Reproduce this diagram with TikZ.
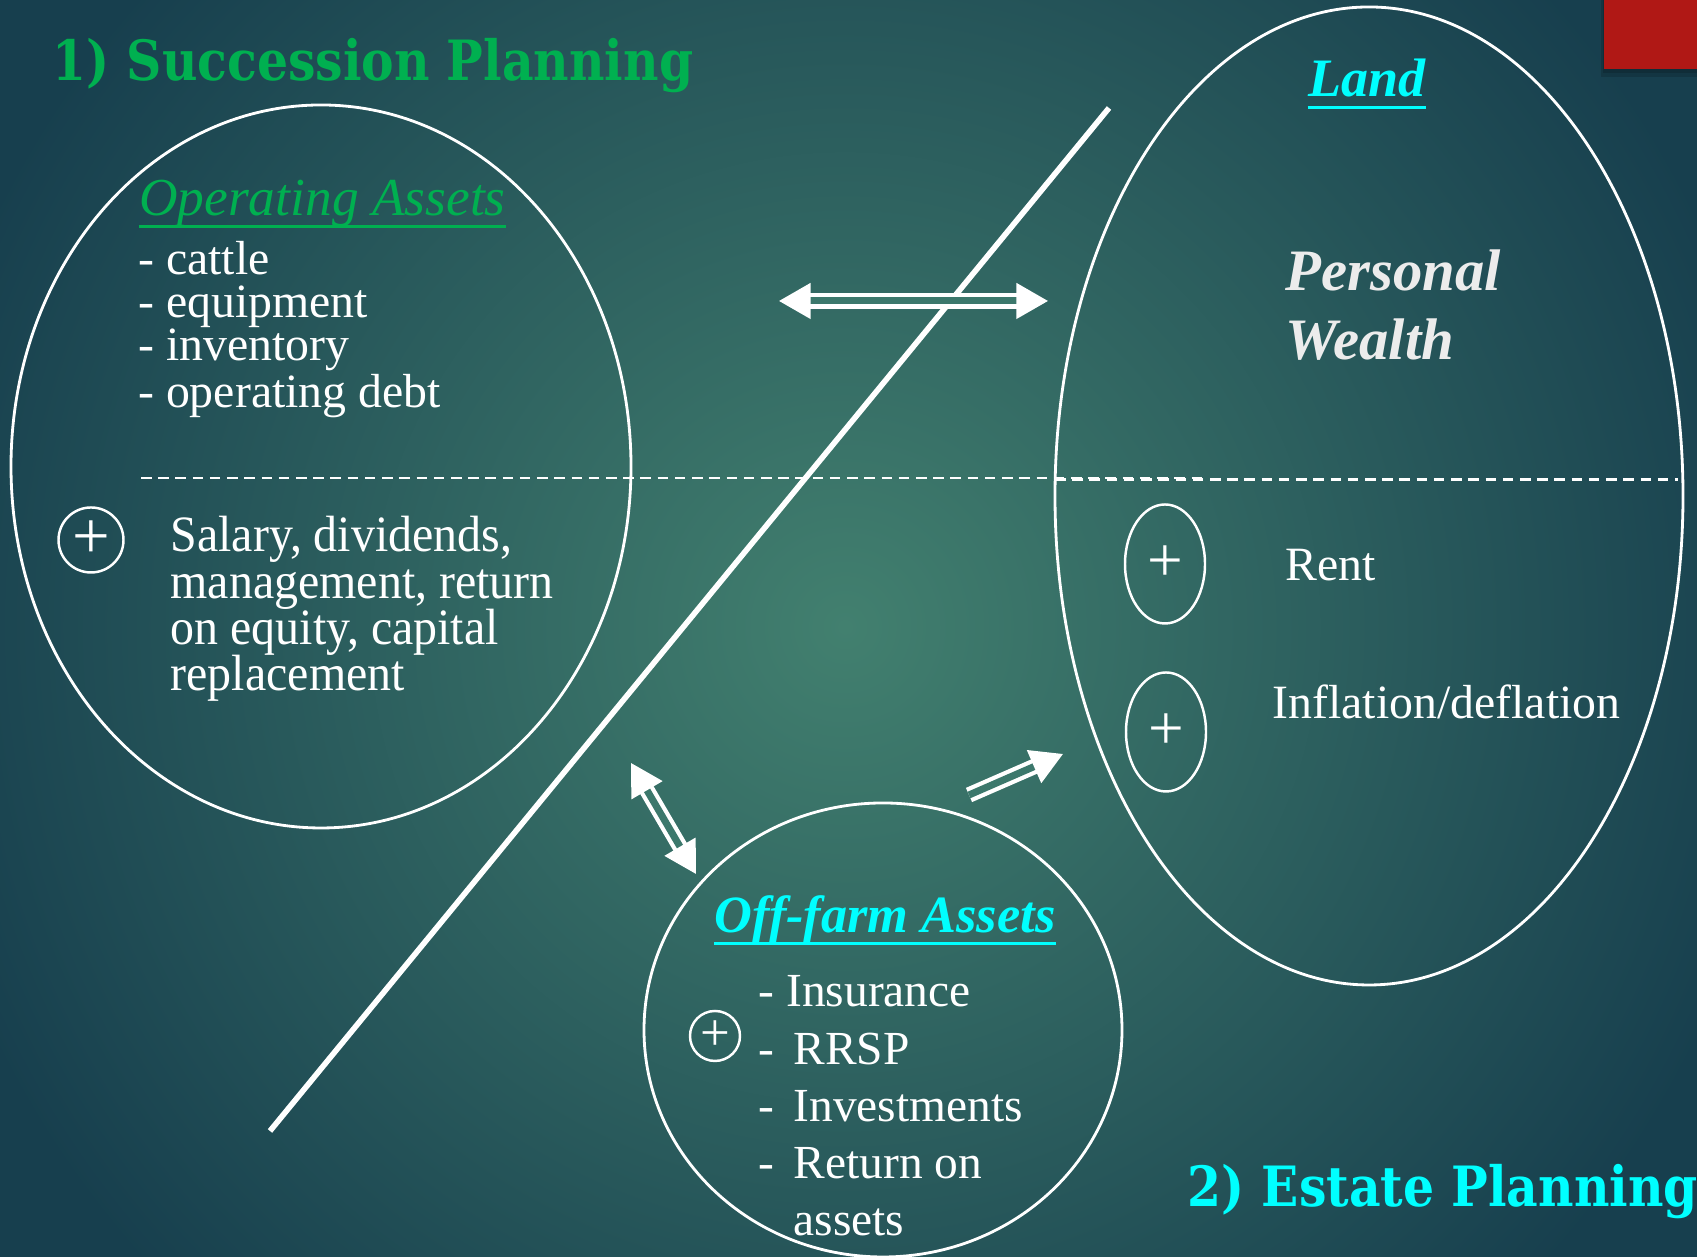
\documentclass[tikz,border=0pt]{standalone}
\usepackage{fontspec}
\setmainfont{Liberation Serif}
\newfontfamily\headfont{DejaVu Serif}[FakeStretch=0.88]
\newfontfamily\narrowserif{Liberation Serif}[FakeStretch=0.94]
\usepackage{tikz}
\usetikzlibrary{arrows.meta,shapes.geometric}
\definecolor{bgdark}{HTML}{173F4E}
\definecolor{bglight}{HTML}{42806F}
\definecolor{gapfill}{HTML}{3C786C}
\definecolor{titlegreen}{HTML}{00B050}
\definecolor{titlecyan}{HTML}{00FFFF}
\definecolor{wealthgray}{HTML}{ECECEC}
\definecolor{cornerred}{HTML}{B01815}
\newcommand{\dashitem}{\makebox[0.35cm][l]{-}}
\tikzset{bighead/.tip={Triangle[length=9pt, width=10pt]}}

\begin{document}
\begin{tikzpicture}[
  bubble/.style={ellipse, draw=white, line width=0.8pt, inner sep=0pt},
  plusmark/.style={ellipse, draw=white, line width=0.7pt, inner sep=0pt, text=white},
  head/.style={font=\headfont\bfseries\fontsize{15.8}{18}\selectfont, anchor=base west, inner sep=0pt},
  % anchor base west sits on the last line of a multi-line text
  txt/.style args={#1/#2}{font=\fontsize{#1}{#2}\selectfont, text=white, anchor=base west, inner sep=0pt, align=left},
  bitxt/.style args={#1/#2}{txt=#1/#2, font=\fontsize{#1}{#2}\selectfont\bfseries\itshape},
  divider/.style={white, line width=0.7pt, dash pattern=on 3pt off 1.9pt},
  dblarrow/.style={white, line width=1.2pt, double=gapfill, double distance=2pt}]
\useasboundingbox (0,0) rectangle (16.97,12.57);
% background
\fill[bgdark] (0,0) rectangle (16.97,12.57);
\begin{scope}
  \clip (0,0) rectangle (16.97,12.57);
  \shade[inner color=bglight, outer color=bgdark] (8.45,6.3) circle (9.5);
\end{scope}
\fill[black, opacity=0.15] (16.01,11.80) rectangle (16.97,12.57);
\fill[black, opacity=0.15] (16.03,11.84) rectangle (16.97,12.57);
\fill[cornerred] (16.04,11.88) rectangle (16.97,12.57);

% the three groups of assets
\node[bubble, minimum width=6.20cm, minimum height=7.23cm] (opAssets) at (3.21,7.905) {};
\node[bubble, minimum width=6.28cm, minimum height=9.78cm] (landAssets) at (13.69,7.61) {};
\node[bubble, minimum width=4.78cm, minimum height=4.54cm] (offFarm) at (8.83,2.27) {};

% split between the two plans
\coordinate (slashTop) at (11.09,11.49);
\coordinate (slashBot) at (2.70,1.26);
\draw[white, line width=1.6pt] (slashTop) -- (slashBot);
\draw[divider] (1.41,7.79) -- (12.08,7.79);
\draw[divider] (10.55,7.775) -- (16.78,7.775);

% titles
\node[head, text=titlegreen] (succ) at (0.52,11.76) {1) Succession Planning};
\node[head, text=titlecyan] (estate) at (11.87,0.50) {2) Estate Planning};

% operating assets
\node[txt=15.2/18, text=titlegreen] (opTitle) at (1.385,10.41) {\itshape Operating Assets};
\draw[titlegreen, line width=1pt] ([yshift=-3pt]opTitle.base west) -- ([yshift=-3pt]opTitle.base east);
\node[txt=13.6/12.3] (opList) at (1.375,8.49) {- cattle\\- equipment\\- inventory\\- operating debt};
\node[plusmark, minimum width=0.65cm, minimum height=0.65cm, font=\fontsize{19}{19}\selectfont] (plusOp) at (0.91,7.17) {+};
\node[txt=14.5/13.2, font=\narrowserif\fontsize{14.5}{13.2}\selectfont] (opIncome) at (1.70,5.66) {Salary, dividends,\\management, return\\on equity, capital\\replacement};

% land and personal wealth
\node[bitxt=15.4/18, text=titlecyan] (landTitle) at (13.075,11.60) {Land};
\draw[titlecyan, line width=1pt] ([yshift=-3pt]landTitle.base west) -- ([yshift=-3pt]landTitle.base east);
\node[bitxt=16.7/19.9, text=wealthgray] (wealth) at (12.85,8.97) {Personal\\Wealth};
\node[plusmark, minimum width=0.80cm, minimum height=1.19cm, font=\fontsize{18}{18}\selectfont] (plusRent) at (11.65,6.93) {+};
\node[plusmark, minimum width=0.80cm, minimum height=1.19cm, font=\fontsize{18}{18}\selectfont] (plusInfl) at (11.66,5.25) {+};
\node[txt=13.6/16] (rent) at (12.85,6.76) {Rent};
\node[txt=13.6/16] (infl) at (12.72,5.38) {Inflation/deflation};

% off-farm assets
\node[bitxt=14.9/18, text=titlecyan] (offTitle) at (7.14,3.24) {Off-farm Assets};
\draw[titlecyan, line width=1pt] ([yshift=-3pt]offTitle.base west) -- ([yshift=-3pt]offTitle.base east);
\node[plusmark, minimum width=0.5cm, minimum height=0.5cm, font=\fontsize{15}{15}\selectfont] (plusOff) at (7.15,2.21) {+};
\node[txt=13.5/16.3] (offList) at (7.58,0.21) {-\ Insurance\\\dashitem RRSP\\\dashitem Investments\\\dashitem Return on\\\hspace*{0.35cm}assets};

% transfers
\coordinate (crossL) at (7.79,9.56);
\coordinate (crossR) at (10.48,9.56);
\draw[dblarrow, {bighead}-{bighead}] (crossL) -- (crossR);
\coordinate (offUp) at (6.31,4.94);
\coordinate (offDown) at (6.96,3.83);
\draw[dblarrow, {bighead}-{bighead}] (offUp) -- (offDown);
\coordinate (toLandA) at (9.69,4.62);
\coordinate (toLandB) at (10.63,5.03);
\draw[dblarrow, -{bighead}] (toLandA) -- (toLandB);
\end{tikzpicture}
\end{document}
